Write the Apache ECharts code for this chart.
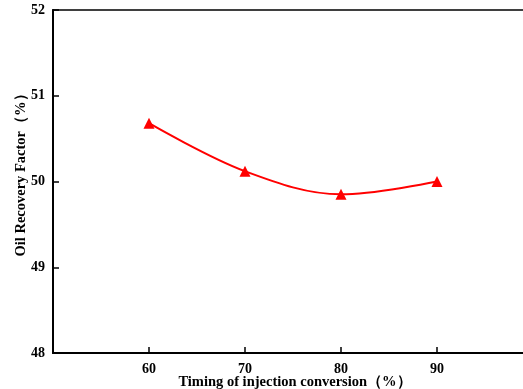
<!DOCTYPE html>
<html><head><meta charset="utf-8">
<script src="https://cdn.jsdelivr.net/npm/echarts@6/dist/echarts.min.js"></script>
<style>html,body{margin:0;padding:0;background:#fff}#c{width:523px;height:389px}</style>
</head><body><div id="c"></div>
<script>
const xValues = [60, 70, 80, 90];
const recovery = [50.68, 50.12, 49.85, 50.0];
const xName = 'Timing of injection conversion（%）';
const yName = 'Oil Recovery Factor（%）';

const font = 'Liberation Serif';
const chart = echarts.init(document.getElementById('c'));
chart.setOption({
  animation: false,
  backgroundColor: '#fff',
  grid: { left: 53, width: 480, top: 10, height: 343, containLabel: false, outerBoundsMode: 'none',
          show: true, borderColor: '#000', borderWidth: 1.5 },
  xAxis: {
    type: 'value', min: 50, max: 100, interval: 10,
    name: xName, nameLocation: 'middle', nameGap: 22, nameMoveOverlap: false,
    nameTextStyle: { fontFamily: font, fontWeight: 'bold', fontSize: 14.5, color: '#000', padding: [0, 0, 0, 4] },
    axisLine: { lineStyle: { color: '#000', width: 2 } },
    axisTick: { inside: true, length: 6, lineStyle: { color: '#000', width: 1.5 } },
    axisLabel: { showMinLabel: false, showMaxLabel: false, margin: 9, fontFamily: font, fontWeight: 'bold', fontSize: 14, color: '#000' },
    splitLine: { show: false }
  },
  yAxis: {
    type: 'value', min: 48, max: 52, interval: 1,
    name: yName, nameLocation: 'middle', nameGap: 24, nameMoveOverlap: false,
    nameTextStyle: { fontFamily: font, fontWeight: 'bold', fontSize: 14.5, color: '#000', padding: [0, 0, 0, 20] },
    axisLine: { show: true, lineStyle: { color: '#000', width: 2 } },
    axisTick: { show: true, inside: true, length: 6, lineStyle: { color: '#000', width: 1.5 } },
    axisLabel: { margin: 8, fontFamily: font, fontWeight: 'bold', fontSize: 14, color: '#000' },
    splitLine: { show: false }
  },
  series: [{
    type: 'line', smooth: 0.35,
    data: xValues.map((x, i) => [x, recovery[i]]),
    symbol: 'triangle', symbolSize: 11,
    itemStyle: { color: '#ff0000' },
    lineStyle: { color: '#ff0000', width: 2 }
  }]
});
</script></body></html>
